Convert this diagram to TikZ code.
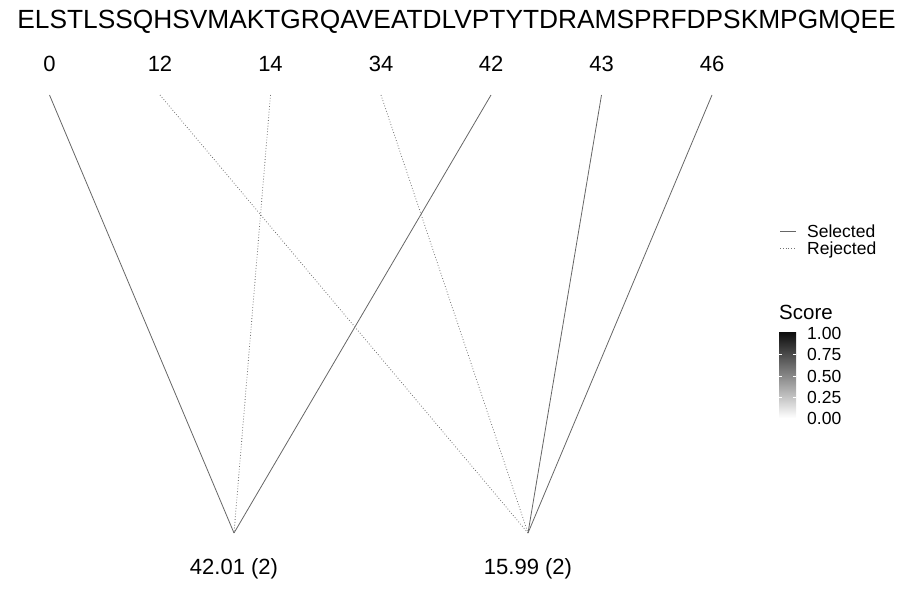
\documentclass[tikz,border=0pt]{standalone}
\usepackage{fontspec}
\setmainfont{Liberation Sans}
\begin{document}
\begin{tikzpicture}[x=1pt,y=-1pt,
  lab/.style={inner sep=0pt,font=\fontsize{22}{24}\selectfont},
  sel/.style={draw=black!60,line width=0.8pt},
  rej/.style={draw=black!55,line width=0.8pt,dotted},
  leg/.style={inner sep=0pt,anchor=west,font=\fontsize{17.5}{19}\selectfont}]
\useasboundingbox (0,0) rectangle (900,600);
\node[inner sep=0pt,font=\fontsize{26.3}{28}\selectfont] (seq) at (456.5,22) {ELSTLSSQHSVMAKTGRQAVEATDLVPTYTDRAMSPRFDPSKMPGMQEE};
\foreach \n/\x in {0/49.5,12/160,14/270.5,34/381,42/491,43/601.5,46/712}{
  \node[lab] (l\n) at (\x,64) {\n};
  \coordinate (t\n) at (\x,95);
}
\coordinate (A) at (234,533);
\coordinate (B) at (528,533);
\node[lab] (la) at (234,569) {42.01 (2)};
\node[lab] (lb) at (528,569) {15.99 (2)};
\draw[sel] (t0) -- (A);
\draw[rej] (t14) -- (A);
\draw[sel] (t42) -- (A);
\draw[rej] (t12) -- (B);
\draw[rej] (t34) -- (B);
\draw[sel] (t43) -- (B);
\draw[sel] (t46) -- (B);
% legend
\coordinate (s1) at (780,231); \coordinate (s2) at (796,231);
\draw[sel] (s1) -- (s2);
\node[leg,anchor=base west] (ls) at (807,237) {Selected};
\coordinate (r1) at (780,248); \coordinate (r2) at (796,248);
\draw[rej] (r1) -- (r2);
\node[leg,anchor=base west] (lr) at (807,254.5) {Rejected};
\node[inner sep=0pt,anchor=west,font=\fontsize{20.5}{22}\selectfont] (sc) at (779,312) {Score};
\shade[top color=black!95,bottom color=white] (779,332) rectangle (796,418);
\foreach \v/\y in {1.00/333,0.75/354.5,0.50/376,0.25/397,0.00/418}{
  \node[leg] at (807,\y) {\v};
}
\foreach \y in {354.5,376,397}{
  \draw[white,line width=0.5pt] (779,\y) -- (782,\y);
  \draw[white,line width=0.5pt] (793,\y) -- (796,\y);
}
\end{tikzpicture}
\end{document}
